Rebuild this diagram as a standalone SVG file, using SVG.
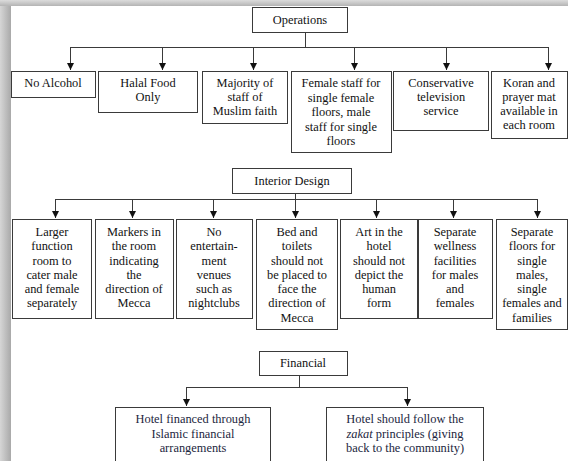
<svg xmlns="http://www.w3.org/2000/svg" width="568" height="461" viewBox="0 0 568 461">
<defs>
<linearGradient id="gl" x1="0" y1="0" x2="1" y2="0">
<stop offset="0" stop-color="#d6d6d6"/>
<stop offset="1" stop-color="#a9a9a9"/>
</linearGradient>
<linearGradient id="gt" x1="0" y1="0" x2="0" y2="1">
<stop offset="0" stop-color="#dcdcdc"/>
<stop offset="1" stop-color="#b4b4b4"/>
</linearGradient>
<marker id="ah" markerUnits="userSpaceOnUse" markerWidth="8" markerHeight="8" viewBox="0 0 8 8" refX="8" refY="4" orient="auto">
<path d="M1,0.5 L8,4 L1,7.5 Z" fill="#111"/>
</marker>
<style>
.box{fill:#fff;stroke:#3a3a3a;stroke-width:1}
.ln{fill:none;stroke:#3a3a3a;stroke-width:1}
.ar{fill:none;stroke:#3a3a3a;stroke-width:1;marker-end:url(#ah)}
text{font-size:12.4px;fill:#111;text-anchor:middle}
.fin text{fill:#1c2640}
</style>
</defs>
<rect x="0" y="0" width="568" height="461" fill="#fff"/>
<rect x="0" y="0" width="11" height="461" fill="url(#gl)"/>
<rect x="0" y="0" width="568" height="6" fill="url(#gt)"/>

<g id="connectors">
<path class="ln" d="M305.5,32 V47.5 M70.5,47.5 H548.5"/>
<path class="ar" d="M70.5,47 V70"/>
<path class="ar" d="M162.5,47 V70"/>
<path class="ar" d="M253.5,47 V70"/>
<path class="ar" d="M354.5,47 V70"/>
<path class="ar" d="M446.5,47 V70"/>
<path class="ar" d="M548.5,47 V70"/>
<path class="ln" d="M55.5,199.5 H537.5"/>
<path class="ar" d="M295.5,193 V218"/>
<path class="ar" d="M55.5,199 V218"/>
<path class="ar" d="M132.5,199 V218"/>
<path class="ar" d="M213.5,199 V218"/>
<path class="ar" d="M376.5,199 V218"/>
<path class="ar" d="M453.5,199 V218"/>
<path class="ar" d="M537.5,199 V218"/>
<path class="ln" d="M299.5,375 V387.5 M186.5,387.5 H407.5"/>
<path class="ar" d="M186.5,387 V406"/>
<path class="ar" d="M407.5,387 V406"/>
</g>

<g font-family="'Liberation Serif', 'Times New Roman', 'DejaVu Serif', serif">
<g id="operations"><rect class="box" x="252.5" y="7.5" width="95" height="25"/><text x="300" y="24">Operations</text></g>
<g id="no-alcohol"><rect class="box" x="11.5" y="71.5" width="84" height="26"/><text x="53" y="87">No Alcohol</text></g>
<g id="halal"><rect class="box" x="98.5" y="71.5" width="99" height="41"/><text x="148" y="87">Halal Food</text><text x="148" y="101">Only</text></g>
<g id="majority"><rect class="box" x="202.5" y="71.5" width="85" height="52"/><text x="245" y="87">Majority of</text><text x="245" y="101">staff of</text><text x="245" y="115">Muslim faith</text></g>
<g id="female-staff"><rect class="box" x="291.5" y="71.5" width="100" height="81"/><text x="341" y="87">Female staff for</text><text x="341" y="101.5">single female</text><text x="341" y="116">floors, male</text><text x="341" y="130.5">staff for single</text><text x="341" y="145">floors</text></g>
<g id="conservative"><rect class="box" x="393.5" y="71.5" width="95" height="59"/><text x="441" y="87">Conservative</text><text x="441" y="101">television</text><text x="441" y="115">service</text></g>
<g id="koran"><rect class="box" x="491.5" y="71.5" width="76" height="67"/><text x="529" y="87">Koran and</text><text x="529" y="101">prayer mat</text><text x="529" y="115">available in</text><text x="529" y="129">each room</text></g>

<g id="interior-design"><rect class="box" x="232.5" y="168.5" width="119" height="25"/><text x="292" y="185">Interior Design</text></g>
<g id="larger-function"><rect class="box" x="12.5" y="219.5" width="79" height="99"/><text x="52" y="236">Larger</text><text x="52" y="250">function</text><text x="52" y="264.5">room to</text><text x="52" y="278.5">cater male</text><text x="52" y="293">and female</text><text x="52" y="307">separately</text></g>
<g id="markers"><rect class="box" x="95.5" y="219.5" width="78" height="99"/><text x="134" y="236">Markers in</text><text x="134" y="250">the room</text><text x="134" y="264.5">indicating</text><text x="134" y="278.5">the</text><text x="134" y="293">direction of</text><text x="134" y="307">Mecca</text></g>
<g id="no-entertainment"><rect class="box" x="176.5" y="219.5" width="76" height="99"/><text x="214" y="236">No</text><text x="214" y="250">entertain-</text><text x="214" y="264.5">ment</text><text x="214" y="278.5">venues</text><text x="214" y="293">such as</text><text x="214" y="307">nightclubs</text></g>
<g id="bed-toilets"><rect class="box" x="256.5" y="219.5" width="81" height="110"/><text x="297" y="236">Bed and</text><text x="297" y="250">toilets</text><text x="297" y="264.5">should not</text><text x="297" y="278.5">be placed to</text><text x="297" y="293">face the</text><text x="297" y="307">direction of</text><text x="297" y="321.5">Mecca</text></g>
<g id="art"><rect class="box" x="340.5" y="219.5" width="77" height="99"/><text x="379" y="236">Art in the</text><text x="379" y="250">hotel</text><text x="379" y="264.5">should not</text><text x="379" y="278.5">depict the</text><text x="379" y="293">human</text><text x="379" y="307">form</text></g>
<g id="wellness"><rect class="box" x="418.5" y="219.5" width="74" height="99"/><text x="455" y="236">Separate</text><text x="455" y="250">wellness</text><text x="455" y="264.5">facilities</text><text x="455" y="278.5">for males</text><text x="455" y="293">and</text><text x="455" y="307">females</text></g>
<g id="separate-floors"><rect class="box" x="496.5" y="219.5" width="71" height="110"/><text x="532" y="236">Separate</text><text x="532" y="250">floors for</text><text x="532" y="264.5">single</text><text x="532" y="278.5">males,</text><text x="532" y="293">single</text><text x="532" y="307">females and</text><text x="532" y="321.5">families</text></g>

<g id="financial"><rect class="box" x="259.5" y="351.5" width="88" height="24"/><text x="303" y="367">Financial</text></g>
<g id="islamic-finance" class="fin"><rect class="box" x="115.5" y="407.5" width="155" height="60"/><text x="193" y="423">Hotel financed through</text><text x="193" y="437.5">Islamic financial</text><text x="193" y="452">arrangements</text></g>
<g id="zakat" class="fin"><rect class="box" x="326.5" y="407.5" width="157" height="60"/><text x="405" y="423">Hotel should follow the</text><text x="405" y="437.5"><tspan font-style="italic">zakat</tspan> principles  (giving</text><text x="405" y="452">back to the community)</text></g>
</g>
</svg>
